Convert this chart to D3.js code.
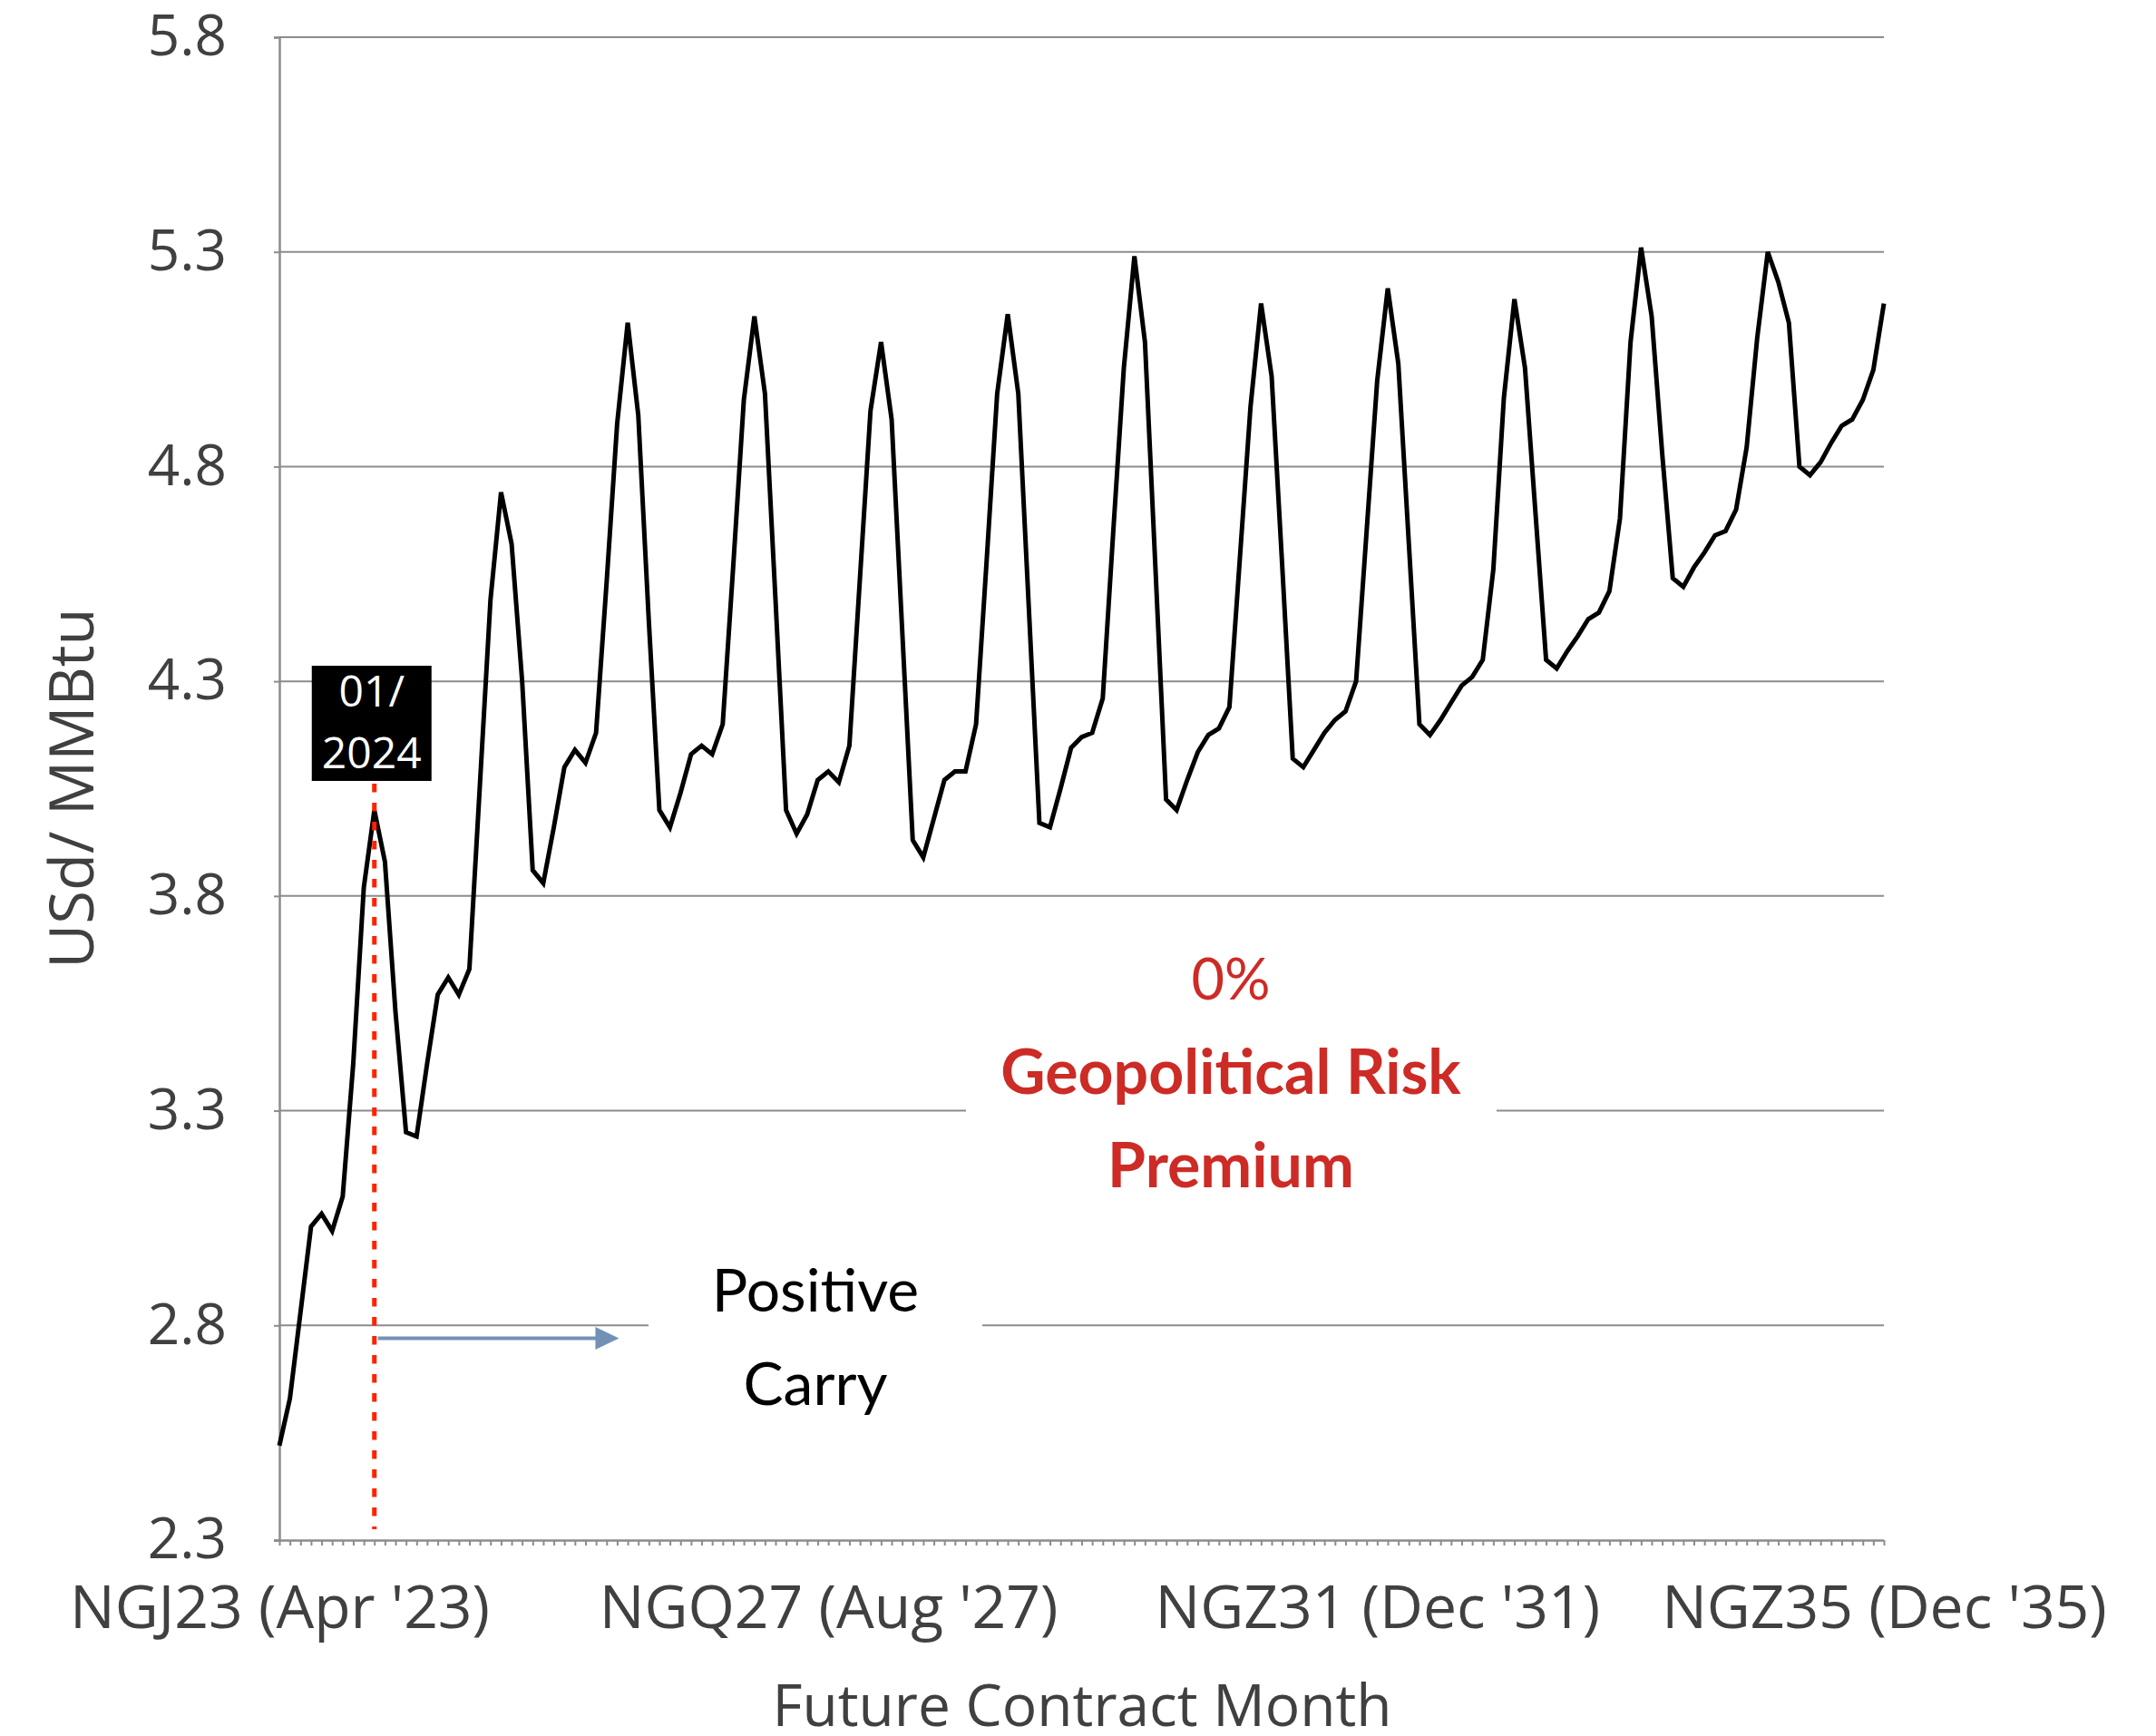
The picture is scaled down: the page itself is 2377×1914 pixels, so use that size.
<!DOCTYPE html>
<html>
<head>
<meta charset="utf-8">
<script src="https://cdn.jsdelivr.net/npm/d3@7"></script>
<style>
  body { margin: 0; background: #fff; }
  svg { display: block; }
</style>
</head>
<body>
<div id="chart"></div>
<script>
// settlement curve, one value per monthly contract from Apr '23 to Dec '35 (USd/MMBtu)
const prices = [
  2.52, 2.63, 2.83, 3.03, 3.06, 3.02, 3.10, 3.41, 3.82, 4.00, 3.88, 3.53,
  3.25, 3.24, 3.41, 3.57, 3.61, 3.57, 3.63, 4.06, 4.49, 4.74, 4.62, 4.30,
  3.86, 3.83, 3.96, 4.10, 4.14, 4.11, 4.18, 4.53, 4.90, 5.135, 4.92, 4.44,
  4.00, 3.96, 4.04, 4.13, 4.15, 4.13, 4.20, 4.57, 4.955, 5.15, 4.97, 4.49,
  4.00, 3.945, 3.99, 4.07, 4.09, 4.065, 4.15, 4.54, 4.93, 5.09, 4.91, 4.42,
  3.93, 3.89, 3.98, 4.07, 4.09, 4.09, 4.20, 4.58, 4.97, 5.155, 4.97, 4.47,
  3.97, 3.96, 4.05, 4.145, 4.17, 4.18, 4.26, 4.65, 5.03, 5.29, 5.09, 4.56,
  4.025, 4.00, 4.07, 4.135, 4.175, 4.19, 4.24, 4.59, 4.94, 5.18, 5.01, 4.57,
  4.12, 4.10, 4.14, 4.18, 4.21, 4.23, 4.30, 4.65, 5.00, 5.215, 5.04, 4.62,
  4.20, 4.175, 4.21, 4.25, 4.29, 4.31, 4.35, 4.56, 4.96, 5.19, 5.03, 4.69,
  4.35, 4.33, 4.37, 4.405, 4.445, 4.46, 4.51, 4.68, 5.09, 5.31, 5.15, 4.83,
  4.54, 4.52, 4.565, 4.60, 4.64, 4.65, 4.70, 4.845, 5.10, 5.30, 5.23, 5.135,
  4.80, 4.78, 4.81, 4.855, 4.895, 4.91, 4.955, 5.025, 5.18
];

// NYMEX month codes, first contract is April 2023
const monthCodes = ["F","G","H","J","K","M","N","Q","U","V","X","Z"];
const contracts = prices.map((p, i) => {
  const m = (3 + i) % 12, yr = 23 + Math.floor((3 + i) / 12);
  return "NG" + monthCodes[m] + yr;
});

const tickLabels = {
  "NGJ23": "NGJ23 (Apr '23)",
  "NGQ27": "NGQ27 (Aug '27)",
  "NGZ31": "NGZ31 (Dec '31)",
  "NGZ35": "NGZ35 (Dec '35)"
};
const yTicks = [2.3, 2.8, 3.3, 3.8, 4.3, 4.8, 5.3, 5.8];

const markerContract = "NGF24";   // 01/2024
const carryEnd = "NGZ25";
const carryLevel = 2.77;

const width = 2377, height = 1914;
const margin = {top: 41, right: 300, bottom: 216, left: 308};

const svg = d3.select("#chart")
  .append("svg")
    .attr("width", width)
    .attr("height", height);

const x = d3.scalePoint()
  .domain(contracts)
  .range([margin.left, width - margin.right]);

const y = d3.scaleLinear()
  .domain([2.3, 5.8])
  .range([height - margin.bottom, margin.top]);

const axisColor = "#8c8c8c";
const textColor = "#404040";

// gridlines
svg.append("g")
  .selectAll("line")
  .data(yTicks.slice(1))
  .join("line")
    .attr("x1", margin.left)
    .attr("x2", width - margin.right)
    .attr("y1", d => y(d))
    .attr("y2", d => y(d))
    .attr("stroke", axisColor)
    .attr("stroke-width", 2);

// y axis
const yAxis = svg.append("g")
  .attr("transform", `translate(${margin.left},0)`)
  .call(d3.axisLeft(y).tickValues(yTicks).tickFormat(d3.format(".1f")).tickSize(6).tickPadding(52));
yAxis.select(".domain").attr("stroke", axisColor).attr("stroke-width", 2.5);
yAxis.selectAll(".tick line").attr("stroke", axisColor).attr("stroke-width", 2);
yAxis.selectAll("text")
  .attr("fill", textColor)
  .style("font-family", "'Open Sans', sans-serif")
  .style("font-size", "62px");

// x axis, a tick on every contract
const xAxis = svg.append("g")
  .attr("transform", `translate(0,${height - margin.bottom})`)
  .call(d3.axisBottom(x).tickValues(contracts).tickSize(6).tickSizeOuter(0)
    .tickFormat(d => tickLabels[d] || ""));
xAxis.select(".domain").attr("stroke", axisColor).attr("stroke-width", 2.5)
  .attr("d", `M${margin.left - 6},0.5H${width - margin.right}`);
xAxis.selectAll(".tick line").attr("stroke", axisColor).attr("stroke-width", 2);
xAxis.selectAll("text")
  .attr("y", 73)
  .attr("dy", "0.36em")
  .attr("fill", textColor)
  .style("font-family", "'Open Sans', sans-serif")
  .style("font-size", "66px");

// axis titles
svg.append("text")
  .attr("transform", `translate(79,869) rotate(-90)`)
  .attr("text-anchor", "middle")
  .attr("dy", "0.36em")
  .attr("fill", textColor)
  .style("font-family", "'Open Sans', sans-serif")
  .style("font-size", "67px")
  .text("USd/ MMBtu");

svg.append("text")
  .attr("x", 1193)
  .attr("y", 1880)
  .attr("text-anchor", "middle")
  .attr("dy", "0.36em")
  .attr("fill", textColor)
  .style("font-family", "'Open Sans', sans-serif")
  .style("font-size", "64px")
  .text("Future Contract Month");

// white text boxes that break the gridlines
svg.append("rect")
  .attr("x", 715).attr("y", 1370).attr("width", 368).attr("height", 210)
  .attr("fill", "#fff");
svg.append("rect")
  .attr("x", 1065).attr("y", 1025).attr("width", 585).attr("height", 320)
  .attr("fill", "#fff");

// price curve
const line = d3.line()
  .x((d, i) => x(contracts[i]))
  .y(d => y(d));

svg.append("path")
  .datum(prices)
  .attr("fill", "none")
  .attr("stroke", "#000")
  .attr("stroke-width", 5)
  .attr("stroke-linejoin", "miter")
  .attr("d", line);

// 01/2024 marker
const mx = x(markerContract);
svg.append("line")
  .attr("x1", mx).attr("x2", mx)
  .attr("y1", 864).attr("y2", y(2.3) - 12)
  .attr("stroke", "#ff2200")
  .attr("stroke-width", 5)
  .attr("stroke-dasharray", "9.5,11.5");

svg.append("rect")
  .attr("x", mx - 69).attr("y", 734)
  .attr("width", 132).attr("height", 127)
  .attr("fill", "#000");
svg.append("g")
  .selectAll("text")
  .data(["01/", "2024"])
  .join("text")
    .attr("x", mx - 3)
    .attr("y", (d, i) => 762 + i * 68)
    .attr("text-anchor", "middle")
    .attr("dy", "0.36em")
    .attr("fill", "#fff")
    .style("font-family", "'Open Sans', sans-serif")
    .style("font-size", "48px")
    .text(d => d);

// positive carry arrow
const ax0 = mx + 4, ax1 = x(carryEnd) + 2, ay = y(carryLevel);
svg.append("line")
  .attr("x1", ax0).attr("x2", ax1 - 22)
  .attr("y1", ay).attr("y2", ay)
  .attr("stroke", "#7391b5")
  .attr("stroke-width", 4);
svg.append("path")
  .attr("d", `M${ax1 - 26},${ay - 12.5}L${ax1},${ay}L${ax1 - 26},${ay + 12.5}Z`)
  .attr("fill", "#7391b5");

svg.append("g")
  .selectAll("text")
  .data(["Positive", "Carry"])
  .join("text")
    .attr("x", 899)
    .attr("y", (d, i) => 1422 + i * 103)
    .attr("text-anchor", "middle")
    .attr("dy", "0.36em")
    .attr("fill", "#000")
    .style("font-family", "Lato, sans-serif")
    .style("font-size", "66px")
    .text(d => d);

// geopolitical risk premium label
const geo = [
  {t: "0%", w: "normal", s: 63},
  {t: "Geopolitical Risk", w: "bold", s: 68},
  {t: "Premium", w: "bold", s: 68}
];
svg.append("g")
  .selectAll("text")
  .data(geo)
  .join("text")
    .attr("x", 1357)
    .attr("y", (d, i) => 1079 + i * 103)
    .attr("text-anchor", "middle")
    .attr("dy", "0.36em")
    .attr("fill", "#cd2b26")
    .style("font-family", "Lato, sans-serif")
    .style("font-weight", d => d.w)
    .style("font-size", d => d.s + "px")
    .text(d => d.t);
</script>
</body>
</html>
